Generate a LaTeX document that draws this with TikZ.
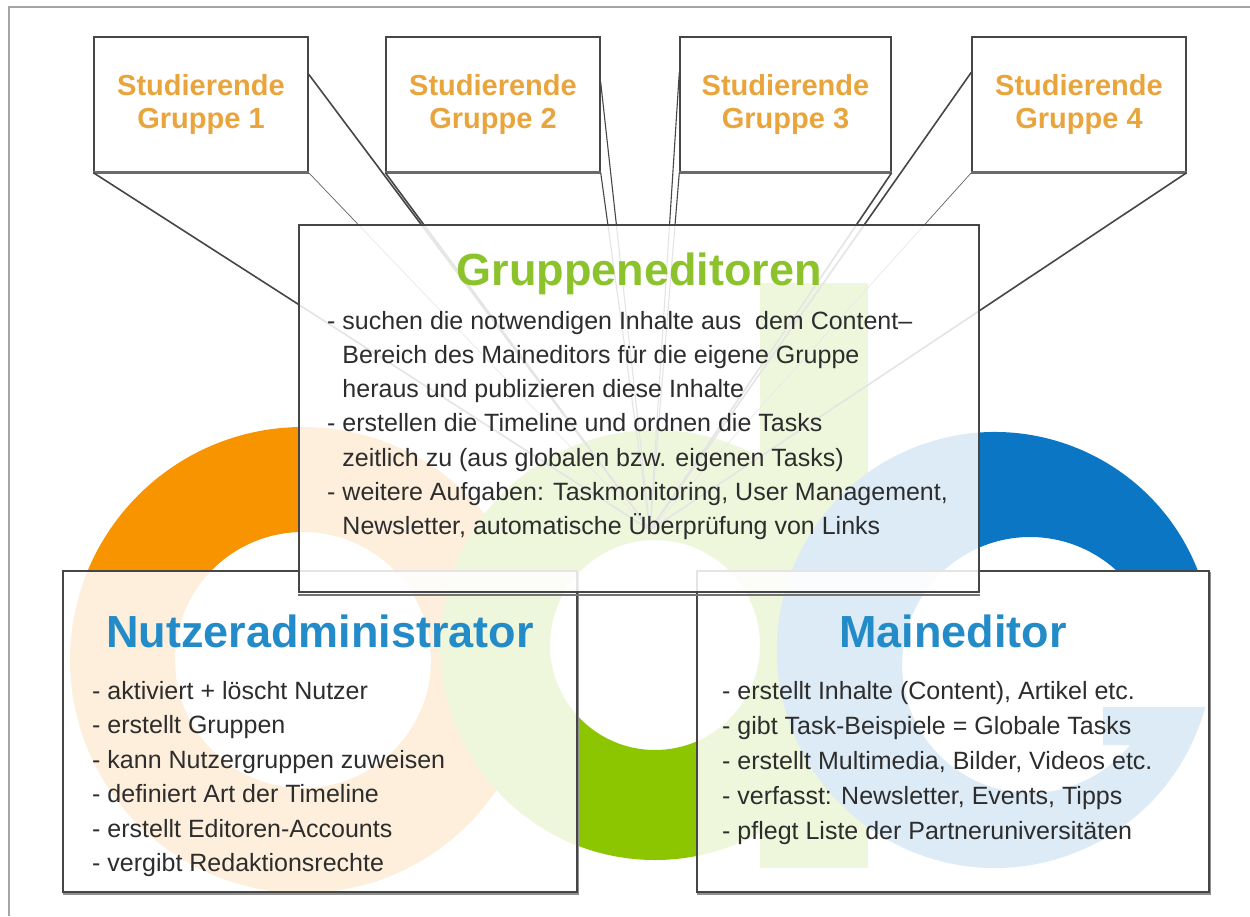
\documentclass[tikz,border=0pt]{standalone}
\usepackage{fontspec}
\setmainfont{Liberation Sans}
\usetikzlibrary{calc}
\definecolor{edge}{RGB}{70,70,70}
\definecolor{framec}{RGB}{165,165,165}
\definecolor{txt}{RGB}{45,45,45}
\definecolor{orng}{RGB}{247,148,0}
\definecolor{grn}{RGB}{140,198,0}
\definecolor{blu}{RGB}{10,118,196}
\definecolor{tblue}{RGB}{35,140,200}
\definecolor{tgreen}{RGB}{140,195,45}
\definecolor{studc}{RGB}{233,165,60}
\begin{document}
\begin{tikzpicture}[x=1pt,y=-1pt,
  box/.style={draw=edge, line width=1.4pt, fill=white, inner sep=0pt},
  glass/.style={draw=edge, line width=1.4pt, fill=white, fill opacity=0.86, text opacity=1, inner sep=0pt},
  body/.style={font=\fontsize{25}{34}\selectfont, text=txt, anchor=base west, inner sep=0pt},
  title/.style={font=\fontsize{45}{50}\selectfont\bfseries, anchor=base, inner sep=0pt},
  stud/.style={font=\fontsize{29}{33}\selectfont\bfseries, text=studc, align=center},
  call/.style={draw=edge, line width=1.6pt},
  callmid/.style={draw=edge, line width=1.1pt},
  callthin/.style={draw=edge!85, line width=0.7pt},
  shadowline/.style={draw=edge!80, line width=3pt},
  boxshadow/.style={draw=edge!60, line width=1.5pt},
]
\useasboundingbox (0,0) rectangle (1250,916);
\fill[white] (0,0) rectangle (1250,916);
% outer frame
\draw[framec, line width=1.5pt] (9,916) -- (9,7) -- (1250,7);

% background logo shapes
\fill[orng, even odd rule] (303,660) circle[radius=233] (303,660) circle[radius=128];
\fill[grn, even odd rule] (655,645) circle[radius=215] (655,645) circle[radius=105];
\fill[grn] (760,283) rectangle (868,868);
\fill[blu] (1198,571) arc[start angle=-21.25, end angle=-344.84, radius=218]
  -- (1103,707) -- (1103,745) -- (1130,745)
  arc[start angle=38.7, end angle=312.7, radius=128] -- cycle;

% student group boxes
\node[box, stud, minimum width=214pt, minimum height=135pt] (s1) at (201,104.5) {Studierende\\Gruppe 1};
\node[box, stud, minimum width=214pt, minimum height=135pt] (s2) at (493,104.5) {Studierende\\Gruppe 2};
\node[box, stud, minimum width=211pt, minimum height=135pt] (s3) at (785.5,104.5) {Studierende\\Gruppe 3};
\node[box, stud, minimum width=214pt, minimum height=135pt] (s4) at (1079,104.5) {Studierende\\Gruppe 4};
\foreach \s in {s1,s2,s3,s4}
  \draw[shadowline] (\s.south west) -- (\s.south east);

% callout pointers
\coordinate (tip) at (650,530);
\draw[call] (s1.south west) -- (tip);
\draw[call] ($(s1.north east)+(0,38)$) -- (tip);
\draw[callthin] (s1.south east) -- (tip);
\draw[call] (s2.south west) -- (tip);
\draw[callmid] ($(s2.north east)+(0,46)$) -- (tip);
\draw[callmid] (s2.south east) -- (tip);
\draw[callmid] ($(s3.north west)+(0,36)$) -- (tip);
\draw[callmid] (s3.south west) -- (tip);
\draw[call] (s3.south east) -- (tip);
\draw[call] ($(s4.north west)+(0,36)$) -- (tip);
\draw[callthin] (s4.south west) -- (tip);
\draw[call] (s4.south east) -- (tip);

% lower boxes
\node[glass, minimum width=514pt, minimum height=321pt] (na) at (320,731.5) {};
\node[glass, minimum width=512pt, minimum height=321pt] (me) at (953,731.5) {};
\draw[boxshadow] ($(na.south west)+(1,1.2)$) -- ($(na.south east)+(1,1.2)$) -- ($(na.north east)+(1,1.2)$);
\draw[boxshadow] ($(me.south west)+(1,1.2)$) -- ($(me.south east)+(1,1.2)$) -- ($(me.north east)+(1,1.2)$);

\node[title, text=tblue] (natitle) at (320,647) {Nutzeradministrator};
\foreach \t [count=\i] in {
  {- aktiviert + löscht Nutzer},
  {- erstellt Gruppen},
  {- kann Nutzergruppen zuweisen},
  {- definiert Art der Timeline},
  {- erstellt Editoren-Accounts},
  {- vergibt Redaktionsrechte}}
  \node[body] (nal\i) at (92,{699+34.5*(\i-1)}) {\t};

\node[title, text=tblue] (metitle) at (953,647) {Maineditor};
\foreach \t [count=\i] in {
  {- erstellt Inhalte (Content), Artikel etc.},
  {- gibt Task-Beispiele = Globale Tasks},
  {- erstellt Multimedia, Bilder, Videos etc.},
  {- verfasst: Newsletter, Events, Tipps},
  {- pflegt Liste der Partneruniversitäten}}
  \node[body] (mel\i) at (722,{699+35*(\i-1)}) {\t};

% group editors box (on top)
\node[glass, minimum width=680pt, minimum height=367pt] (ge) at (639,408.5) {};
\draw[edge!75, line width=2pt] ($(ge.south west)+(0,2)$) -- ($(ge.south east)+(0,2)$);
\node[title, text=tgreen] (getitle) at (639,285) {Gruppeneditoren};
\foreach \t [count=\i] in {
  {- suchen die notwendigen Inhalte aus~ dem Content–},
  {\hphantom{- }Bereich des Maineditors für die eigene Gruppe},
  {\hphantom{- }heraus und publizieren diese Inhalte},
  {- erstellen die Timeline und ordnen die Tasks},
  {\hphantom{- }zeitlich zu (aus globalen bzw. eigenen Tasks)},
  {- weitere Aufgaben: Taskmonitoring, User Management,},
  {\hphantom{- }Newsletter, automatische Überprüfung von Links}}
  \node[body] (gel\i) at (327,{329+34.3*(\i-1)}) {\t};
\end{tikzpicture}
\end{document}
